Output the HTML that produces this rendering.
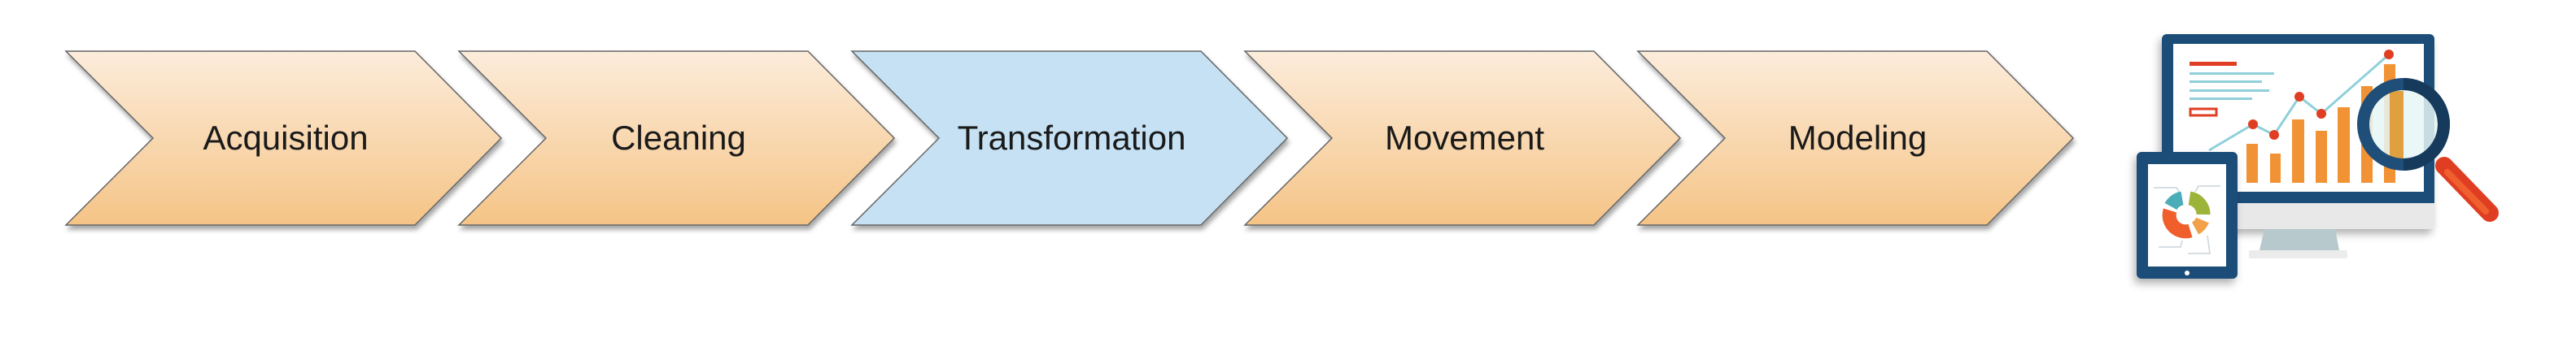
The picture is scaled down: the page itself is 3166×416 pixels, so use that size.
<!DOCTYPE html>
<html><head><meta charset="utf-8"><style>
html,body{margin:0;padding:0;background:#fff;width:3166px;height:416px;overflow:hidden}
svg{display:block}
text{font-family:"Liberation Sans",Arial,sans-serif;font-size:42px;fill:#1a1a1a}
</style></head><body>
<svg width="3166" height="416" viewBox="0 0 3166 416" xmlns="http://www.w3.org/2000/svg">
<defs>
<linearGradient id="og" x1="0" y1="0" x2="0" y2="1">
<stop offset="0" stop-color="#fcecdb"/><stop offset="1" stop-color="#f5c486"/>
</linearGradient>
<filter id="sh" x="-5%" y="-5%" width="110%" height="120%">
<feDropShadow dx="2" dy="5" stdDeviation="3" flood-color="#000" flood-opacity="0.35"/>
</filter>
<filter id="sh2" x="-20%" y="-20%" width="140%" height="140%">
<feDropShadow dx="-3" dy="6" stdDeviation="5" flood-color="#000" flood-opacity="0.3"/>
</filter>
</defs>
<g stroke="#666" stroke-width="1.5" filter="url(#sh)">
<polygon points="81,63 510,63 616,170 510,277 81,277 188,170" fill="url(#og)"/>
<polygon points="564,63 993,63 1099,170 993,277 564,277 671,170" fill="url(#og)"/>
<polygon points="1047,63 1476,63 1582,170 1476,277 1047,277 1154,170" fill="#c5e1f3"/>
<polygon points="1530,63 1959,63 2065,170 1959,277 1530,277 1637,170" fill="url(#og)"/>
<polygon points="2013,63 2442,63 2548,170 2442,277 2013,277 2120,170" fill="url(#og)"/>
</g>
<text x="351" y="184" text-anchor="middle">Acquisition</text>
<text x="834" y="184" text-anchor="middle">Cleaning</text>
<text x="1317" y="184" text-anchor="middle">Transformation</text>
<text x="1800" y="184" text-anchor="middle">Movement</text>
<text x="2283" y="184" text-anchor="middle">Modeling</text>

<!-- monitor -->
<g filter="url(#sh2)">
<rect x="2657" y="42" width="335" height="240" rx="6" fill="#e8e8e8"/>
<path d="M2663,42 H2986 A6,6 0 0 1 2992,48 V250 H2657 V48 A6,6 0 0 1 2663,42Z" fill="#1f4e79"/>
</g>
<rect x="2671" y="54" width="308" height="182" fill="#fff"/>
<polygon points="2783,282 2870,282 2875,308 2777,308" fill="#b7c9cc"/>
<rect x="2764" y="308" width="121" height="10" rx="2" fill="#ececec"/>
<rect x="2691" y="76" width="58" height="5" fill="#e03e22"/>
<g fill="#8fd0da">
<rect x="2691" y="89" width="104" height="3"/>
<rect x="2691" y="99" width="89" height="3"/>
<rect x="2691" y="110" width="98" height="3"/>
<rect x="2691" y="120" width="77" height="3"/>
</g>
<rect x="2692" y="134" width="32" height="8" fill="none" stroke="#e03e22" stroke-width="3"/>
<g fill="#f19235">
<rect x="2761" y="177" width="14" height="48"/>
<rect x="2790" y="189" width="13" height="36"/>
<rect x="2817" y="147" width="15" height="78"/>
<rect x="2846" y="161" width="14" height="64"/>
<rect x="2873" y="132" width="15" height="93"/>
<rect x="2902" y="106" width="14" height="119"/>
<rect x="2930" y="79" width="14" height="146"/>
</g>
<polyline points="2715,185 2769,153 2795,166 2826,119 2853,140 2936,67" fill="none" stroke="#8fd0da" stroke-width="3"/>
<g fill="#e03e22">
<circle cx="2769" cy="153" r="6"/><circle cx="2795" cy="166" r="6"/>
<circle cx="2826" cy="119" r="6"/><circle cx="2853" cy="140" r="6"/>
<circle cx="2936" cy="67" r="6"/>
</g>
<!-- magnifier -->
<line x1="3004" y1="204" x2="3060" y2="262" stroke="#e03e22" stroke-width="22" stroke-linecap="round"/>
<line x1="3008" y1="212" x2="3055" y2="260" stroke="#f0602e" stroke-width="8" stroke-linecap="round"/>
<circle cx="2954" cy="153" r="42" fill="#e6f6f6" fill-opacity="0.85"/>
<rect x="2937" y="112" width="17" height="84" fill="#e0a040"/>
<circle cx="2954" cy="153" r="49.5" fill="none" stroke="#1f4e79" stroke-width="15"/>
<path d="M2954,103.5 A49.5,49.5 0 0 1 2954,202.5" fill="none" stroke="#163a5c" stroke-width="15"/>
<!-- tablet -->
<g filter="url(#sh2)">
<rect x="2626" y="187" width="124" height="156" rx="6" fill="#1f4e79"/>
</g>
<rect x="2640" y="202" width="96" height="126" fill="#fff"/>
<circle cx="2688" cy="336" r="3" fill="#fff"/>
<g fill="none" stroke="#c9d3d8" stroke-width="1.5">
<polyline points="2647,231 2675,231 2679,238"/>
<polyline points="2729,229 2702,229 2698,236"/>
<polyline points="2653,304 2680,304 2682,296"/>
<polyline points="2689,312 2716,312 2713,290"/>
</g>
<g fill="none" stroke-width="17">
<path d="M2682,244 A20,20 0 0 0 2668,254" stroke="#4badb8"/>
<path d="M2691,244 A20,20 0 0 1 2708,264" stroke="#9db43a"/>
<path d="M2707,271 A20,20 0 0 1 2698,281" stroke="#f2a04a"/>
<path d="M2692,284 A20,20 0 0 1 2667,259" stroke="#ef5e2b"/>
</g>
</svg>
</body></html>
